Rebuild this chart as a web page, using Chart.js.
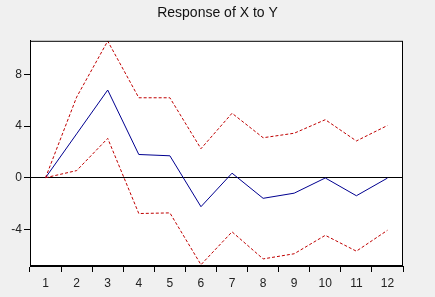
<!DOCTYPE html>
<html>
<head>
<meta charset="utf-8">
<script src="https://cdn.jsdelivr.net/npm/chart.js@4.4.0/dist/chart.umd.min.js"></script>
<style>
  html, body { margin: 0; padding: 0; background: #f0f0f0; }
  #wrap { width: 435px; height: 297px; }
</style>
</head>
<body>
<div id="wrap"><canvas id="irf" width="435" height="297"></canvas></div>
<script>
// dữ liệu
const periods = ['1', '2', '3', '4', '5', '6', '7', '8', '9', '10', '11', '12'];
const response = [0, 3.4, 6.8, 1.8, 1.7, -2.25, 0.35, -1.6, -1.2, -0.02, -1.4, -0.03];
const upperBand = [0, 6.25, 10.6, 6.2, 6.2, 2.25, 5.0, 3.1, 3.45, 4.5, 2.85, 4.05];
const lowerBand = [0, 0.55, 3.05, -2.78, -2.73, -6.75, -4.2, -6.3, -5.9, -4.47, -5.7, -4.08];
const yTicks = [-4, 0, 4, 8];

// nền trắng và khung đen cho vùng vẽ
const framePlugin = {
    id: 'frame',
    beforeDraw(chart) {
        const { ctx, chartArea: a } = chart;
        ctx.save();
        ctx.fillStyle = '#f0f0f0';
        ctx.fillRect(0, 0, chart.width, chart.height);
        ctx.fillStyle = '#ffffff';
        ctx.fillRect(a.left, a.top, a.right - a.left, a.bottom - a.top);
        ctx.restore();
    },
    afterDraw(chart) {
        const { ctx, chartArea: a } = chart;
        ctx.save();
        ctx.strokeStyle = '#000';
        ctx.lineWidth = 1;
        ctx.strokeRect(a.left + 0.5, a.top + 0.5, a.right - a.left - 1, a.bottom - a.top - 1);
        ctx.restore();
    }
};

const ctx = document.getElementById('irf').getContext('2d');
new Chart(ctx, {
    type: 'line',
    data: {
        labels: periods,
        datasets: [
            {
                data: upperBand,
                borderColor: '#c00000',
                borderWidth: 1,
                borderDash: [3, 2],
                pointRadius: 0,
                tension: 0,
                clip: false
            },
            {
                data: response,
                borderColor: '#000090',
                borderWidth: 1,
                pointRadius: 0,
                tension: 0,
                clip: false
            },
            {
                data: lowerBand,
                borderColor: '#c00000',
                borderWidth: 1,
                borderDash: [3, 2],
                pointRadius: 0,
                tension: 0,
                clip: false
            }
        ]
    },
    options: {
        responsive: false,
        animation: false,
        layout: { padding: 0 },
        plugins: {
            legend: { display: false },
            tooltip: { enabled: false },
            title: {
                display: true,
                text: 'Response of X to Y',
                color: '#111',
                font: { family: 'Liberation Sans, Arial', size: 14, weight: 'normal' },
                padding: { top: 5, bottom: 19 }
            }
        },
        scales: {
            x: {
                offset: true,
                border: { display: true, color: '#000' },
                grid: {
                    offset: true,
                    drawOnChartArea: false,
                    tickColor: '#000',
                    tickLength: 6
                },
                ticks: {
                    color: '#222',
                    padding: 4,
                    maxRotation: 0,
                    font: { family: 'Liberation Sans, Arial', size: 12 }
                },
                afterFit(scale) { scale.height = 31; }
            },
            y: {
                min: -6.85,
                max: 10.62,
                border: { display: true, color: '#000' },
                afterBuildTicks(scale) {
                    scale.ticks = yTicks.map(v => ({ value: v }));
                },
                grid: {
                    color: c => (c.tick && c.tick.value === 0 ? '#000' : 'transparent'),
                    tickColor: '#000',
                    tickLength: 6
                },
                ticks: {
                    color: '#222',
                    padding: 2,
                    font: { family: 'Liberation Sans, Arial', size: 12 }
                },
                afterFit(scale) { scale.width = 30; }
            },
            // trục phụ bên phải chỉ để giữ khoảng trống
            yRight: {
                position: 'right',
                min: -6.85,
                max: 10.62,
                border: { display: false },
                grid: { display: false },
                ticks: { display: false },
                afterFit(scale) { scale.width = 32; }
            }
        }
    },
    plugins: [framePlugin]
});
</script>
</body>
</html>
